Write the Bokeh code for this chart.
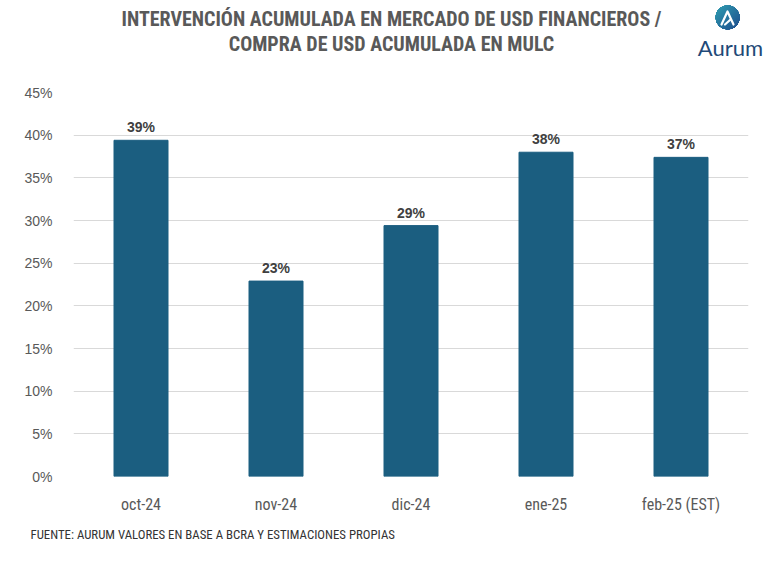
import numpy as np
from bokeh.plotting import figure
from bokeh.layouts import column, row
from bokeh.models import ColumnDataSource, NumeralTickFormatter, FixedTicker
from bokeh.embed import file_html
from bokeh.resources import INLINE
from bokeh.core.properties import value

# Monthly ratio: accumulated intervention in financial USD markets / accumulated USD purchases in MULC
months = ["oct-24", "nov-24", "dic-24", "ene-25", "feb-25 (EST)"]
ratios = [0.394, 0.229, 0.294, 0.380, 0.374]
labels = [f"{round(r * 100):.0f}%" for r in ratios]
y_ticks = [0.0, 0.05, 0.10, 0.15, 0.20, 0.25, 0.30, 0.35, 0.40, 0.45]

title_lines = ["INTERVENCIÓN ACUMULADA EN MERCADO DE USD FINANCIEROS /",
               "COMPRA DE USD ACUMULADA EN MULC"]
source_note = "FUENTE: AURUM VALORES EN BASE A BCRA Y ESTIMACIONES PROPIAS"

TEXT = "#595959"
BAR = "#1b5e80"
NARROW = "Liberation Sans Narrow, Roboto Condensed, Arial Narrow, sans-serif"
W = 780
HEAD_H, FOOT_H = 75, 45


def blank_canvas(h):
    """A full-bleed pixel canvas (1 data unit = 1 px) without axes."""
    f = figure(width=W, height=h, x_range=(0, W), y_range=(0, h),
               output_backend="svg", toolbar_location=None,
               x_axis_location=None, y_axis_location=None,
               min_border=0, outline_line_color=None)
    f.grid.visible = False
    f.background_fill_color = "white"
    f.border_fill_color = "white"
    return f


def badge(size, c_top, c_bottom):
    """Round badge with a diagonal teal-to-navy shading, as an RGBA bitmap."""
    n = size * 4
    yy, xx = np.mgrid[0:n, 0:n] + 0.5
    r = np.hypot(xx - n / 2, yy - n / 2) / (n / 2)
    # rows run bottom-up, so high rows / low columns are the top-left corner
    t = np.clip(((n - yy) + xx) / (2 * n), 0, 1)[..., None]
    rgb = (1 - t) * np.array(c_top) + t * np.array(c_bottom)
    alpha = np.clip((1 - r) * n / 2, 0, 1) * 255
    img = np.empty((n, n), dtype=np.uint32)
    v = img.view(dtype=np.uint8).reshape((n, n, 4))
    v[..., :3] = rgb.astype(np.uint8)
    v[..., 3] = alpha.astype(np.uint8)
    return img


# ---- heading with brand mark ----
head = blank_canvas(HEAD_H)
head.text(x=[391, 391], y=[HEAD_H - 18, HEAD_H - 43], text=title_lines,
          text_align="center", text_baseline="middle",
          text_font=value(NARROW), text_font_style="bold",
          text_font_size="20px", text_color=TEXT)
head.image_rgba(image=[badge(25, (48, 160, 178), (30, 74, 140))],
                x=714.5, y=HEAD_H - 29.5, dw=25, dh=25)
head.multi_line(xs=[[721, 727, 733], [724.5, 729.5]],
                ys=[[HEAD_H - 24, HEAD_H - 11, HEAD_H - 24], [HEAD_H - 24, HEAD_H - 19.5]],
                line_color="white", line_width=2.2, line_cap="round", line_join="round")
head.text(x=[730], y=[HEAD_H - 47], text=["Aurum"], text_align="center",
          text_baseline="middle", text_font=value("Lato"), text_font_size="22px",
          text_color="#1f4a78")

# ---- main bar chart ----
source = ColumnDataSource(dict(month=months, ratio=ratios, label=labels))

p = figure(x_range=months, y_range=(0, 0.45), width=W, height=566 - HEAD_H - FOOT_H,
           frame_width=675, frame_height=384,
           output_backend="svg", toolbar_location=None,
           min_border_left=73, min_border_right=32, min_border_top=92 - HEAD_H,
           min_border_bottom=FOOT_H)
p.outline_line_color = None
p.background_fill_color = "white"
p.border_fill_color = "white"

p.vbar(x="month", top="ratio", width=0.4, color=BAR, source=source)
p.text(x="month", y="ratio", text="label", source=source,
       text_align="center", text_baseline="bottom", y_offset=-5,
       text_font=value("Liberation Sans"), text_font_style="bold",
       text_font_size="14px", text_color="#404040")

p.yaxis.ticker = FixedTicker(ticks=y_ticks)
p.yaxis.formatter = NumeralTickFormatter(format="0%")
p.yaxis.axis_line_color = None
p.yaxis.major_tick_line_color = None
p.yaxis.minor_tick_line_color = None
p.yaxis.major_label_standoff = 15
p.yaxis.major_label_text_font = "Liberation Sans"
p.yaxis.major_label_text_font_size = "14px"
p.yaxis.major_label_text_color = TEXT

p.xaxis.axis_line_color = None
p.xaxis.major_tick_line_color = None
p.xaxis.major_label_standoff = 12
p.xaxis.major_label_text_font = NARROW
p.xaxis.major_label_text_font_size = "16px"
p.xaxis.major_label_text_color = TEXT

p.xgrid.grid_line_color = None
p.ygrid.grid_line_color = "#d9d9d9"
p.ygrid.grid_line_width = 1

# ---- source note ----
foot = blank_canvas(FOOT_H)
foot.text(x=[30], y=[FOOT_H - 13], text=[source_note], text_align="left",
          text_baseline="middle", text_font=value(NARROW), text_font_size="12.8px",
          text_color="#333333")

# header and footer sit in their own rows so their canvases keep the full width
layout = column(row(head), p, row(foot), spacing=0)
open("out.html", "w").write(file_html(layout, INLINE))
